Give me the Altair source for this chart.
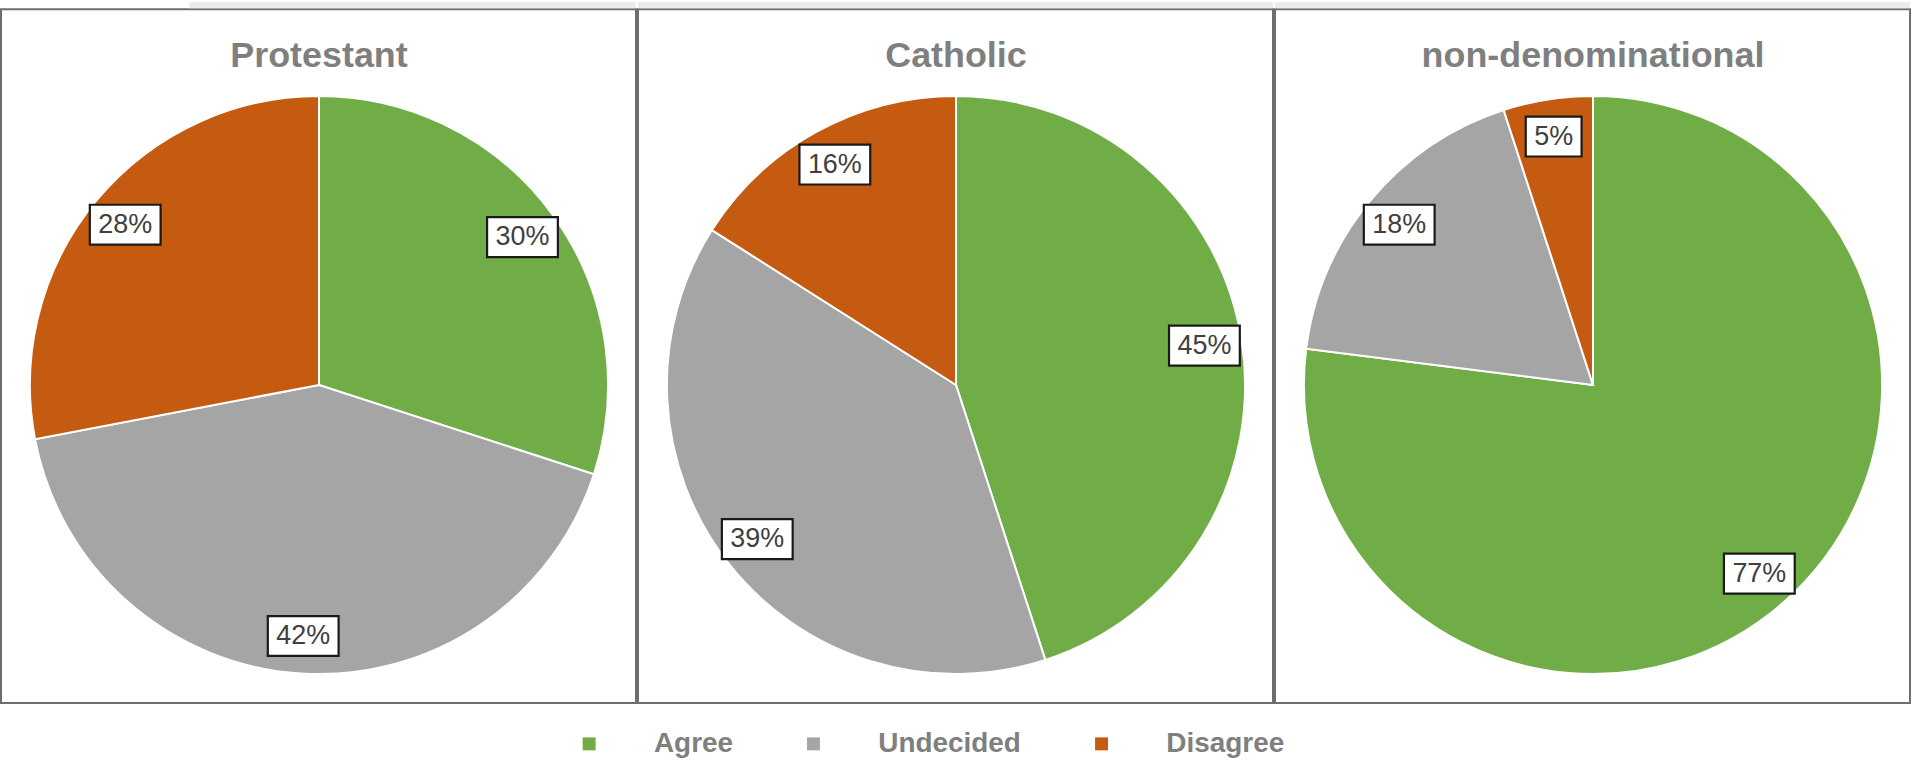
import altair as alt
import pandas as pd

groups = ["Protestant", "Catholic", "non-denominational"]
categories = ["Agree", "Undecided", "Disagree"]
protestant = [30, 42, 28]
catholic = [45, 39, 16]
non_denominational = [77, 18, 5]
colors = ["#70ad47", "#a5a5a5", "#c55a11"]

rows = []
for g, vals in zip(groups, [protestant, catholic, non_denominational]):
    for k, (c, v) in enumerate(zip(categories, vals)):
        rows.append({"group": g, "category": c, "k": k, "value": v, "label": f"{v}%"})
df = pd.DataFrame(rows)

FONT = "Liberation Sans"
W, H = 637, 696
CX, CY, R = 319, 377, 290
LR = 0.87

color = alt.Color(
    "category:N",
    scale=alt.Scale(domain=categories, range=colors),
    sort=categories,
    legend=alt.Legend(
        orient="none", legendX=576, legendY=723, direction="horizontal",
        title=None, symbolType="square", symbolSize=169, symbolStrokeWidth=0,
        labelFont=FONT, labelFontSize=28, labelFontWeight="bold",
        labelColor="#7f7f7f", labelOffset=51, columnPadding=66,
    ),
)

xs = alt.Scale(domain=[-1, 1], range=[CX - R, CX + R], nice=False)
ys = alt.Scale(domain=[-1, 1], range=[CY + R, CY - R], nice=False)


def panel(g, strip_x0):
    base = alt.Chart(df).transform_filter(alt.datum.group == g)
    arcs = base.mark_arc(outerRadius=R, stroke="white", strokeWidth=2).encode(
        theta=alt.Theta("value:Q", stack=True),
        color=color,
        order=alt.Order("k:Q"),
        x=alt.value(CX),
        y=alt.value(CY),
    )
    lab = (
        base.transform_window(cum="sum(value)", sort=[alt.SortField("k")], frame=[None, 0])
        .transform_joinaggregate(total="sum(value)")
        .transform_calculate(mid="2*PI*(datum.cum - datum.value/2)/datum.total")
        .transform_calculate(
            ux=f"{LR}*sin(datum.mid)",
            uy=f"{LR}*cos(datum.mid)",
            hw=f"(17 + 15*(length(datum.label)-1) + 24)/2/{R}",
        )
        .transform_calculate(
            bx1="datum.ux - datum.hw",
            bx2="datum.ux + datum.hw",
            by1=f"datum.uy - 20/{R}",
            by2=f"datum.uy + 20/{R}",
        )
    )
    boxes = lab.mark_rect(fill="white", stroke="#1a1a1a", strokeWidth=2.2).encode(
        x=alt.X("bx1:Q", scale=xs, axis=None),
        x2="bx2:Q",
        y=alt.Y("by1:Q", scale=ys, axis=None),
        y2="by2:Q",
    )
    texts = lab.mark_text(font=FONT, fontSize=27, color="#404040").encode(
        x=alt.X("ux:Q", scale=xs, axis=None),
        y=alt.Y("uy:Q", scale=ys, axis=None),
        text="label:N",
    )
    tdf = pd.DataFrame({"t": [g]})
    title = alt.Chart(tdf).mark_text(
        font=FONT, fontSize=36, fontWeight="bold", color="#7f7f7f"
    ).encode(text="t:N", x=alt.value(CX), y=alt.value(47))
    strip = alt.Chart(tdf).mark_rect(color="#ebebeb").encode(
        x=alt.value(strip_x0), x2=alt.value(W), y=alt.value(-7), y2=alt.value(-1)
    )
    return alt.layer(strip, arcs, boxes, texts, title).properties(width=W, height=H)


chart = (
    alt.hconcat(panel(groups[0], 189), panel(groups[1], 0), panel(groups[2], 0), spacing=0)
    .properties(padding={"left": 0, "top": 0, "right": 0, "bottom": 0}, background="white")
    .configure_view(stroke="#6e6e6e", strokeWidth=2)
)

chart.save("out.html", embed_options={"renderer": "svg", "actions": False})
